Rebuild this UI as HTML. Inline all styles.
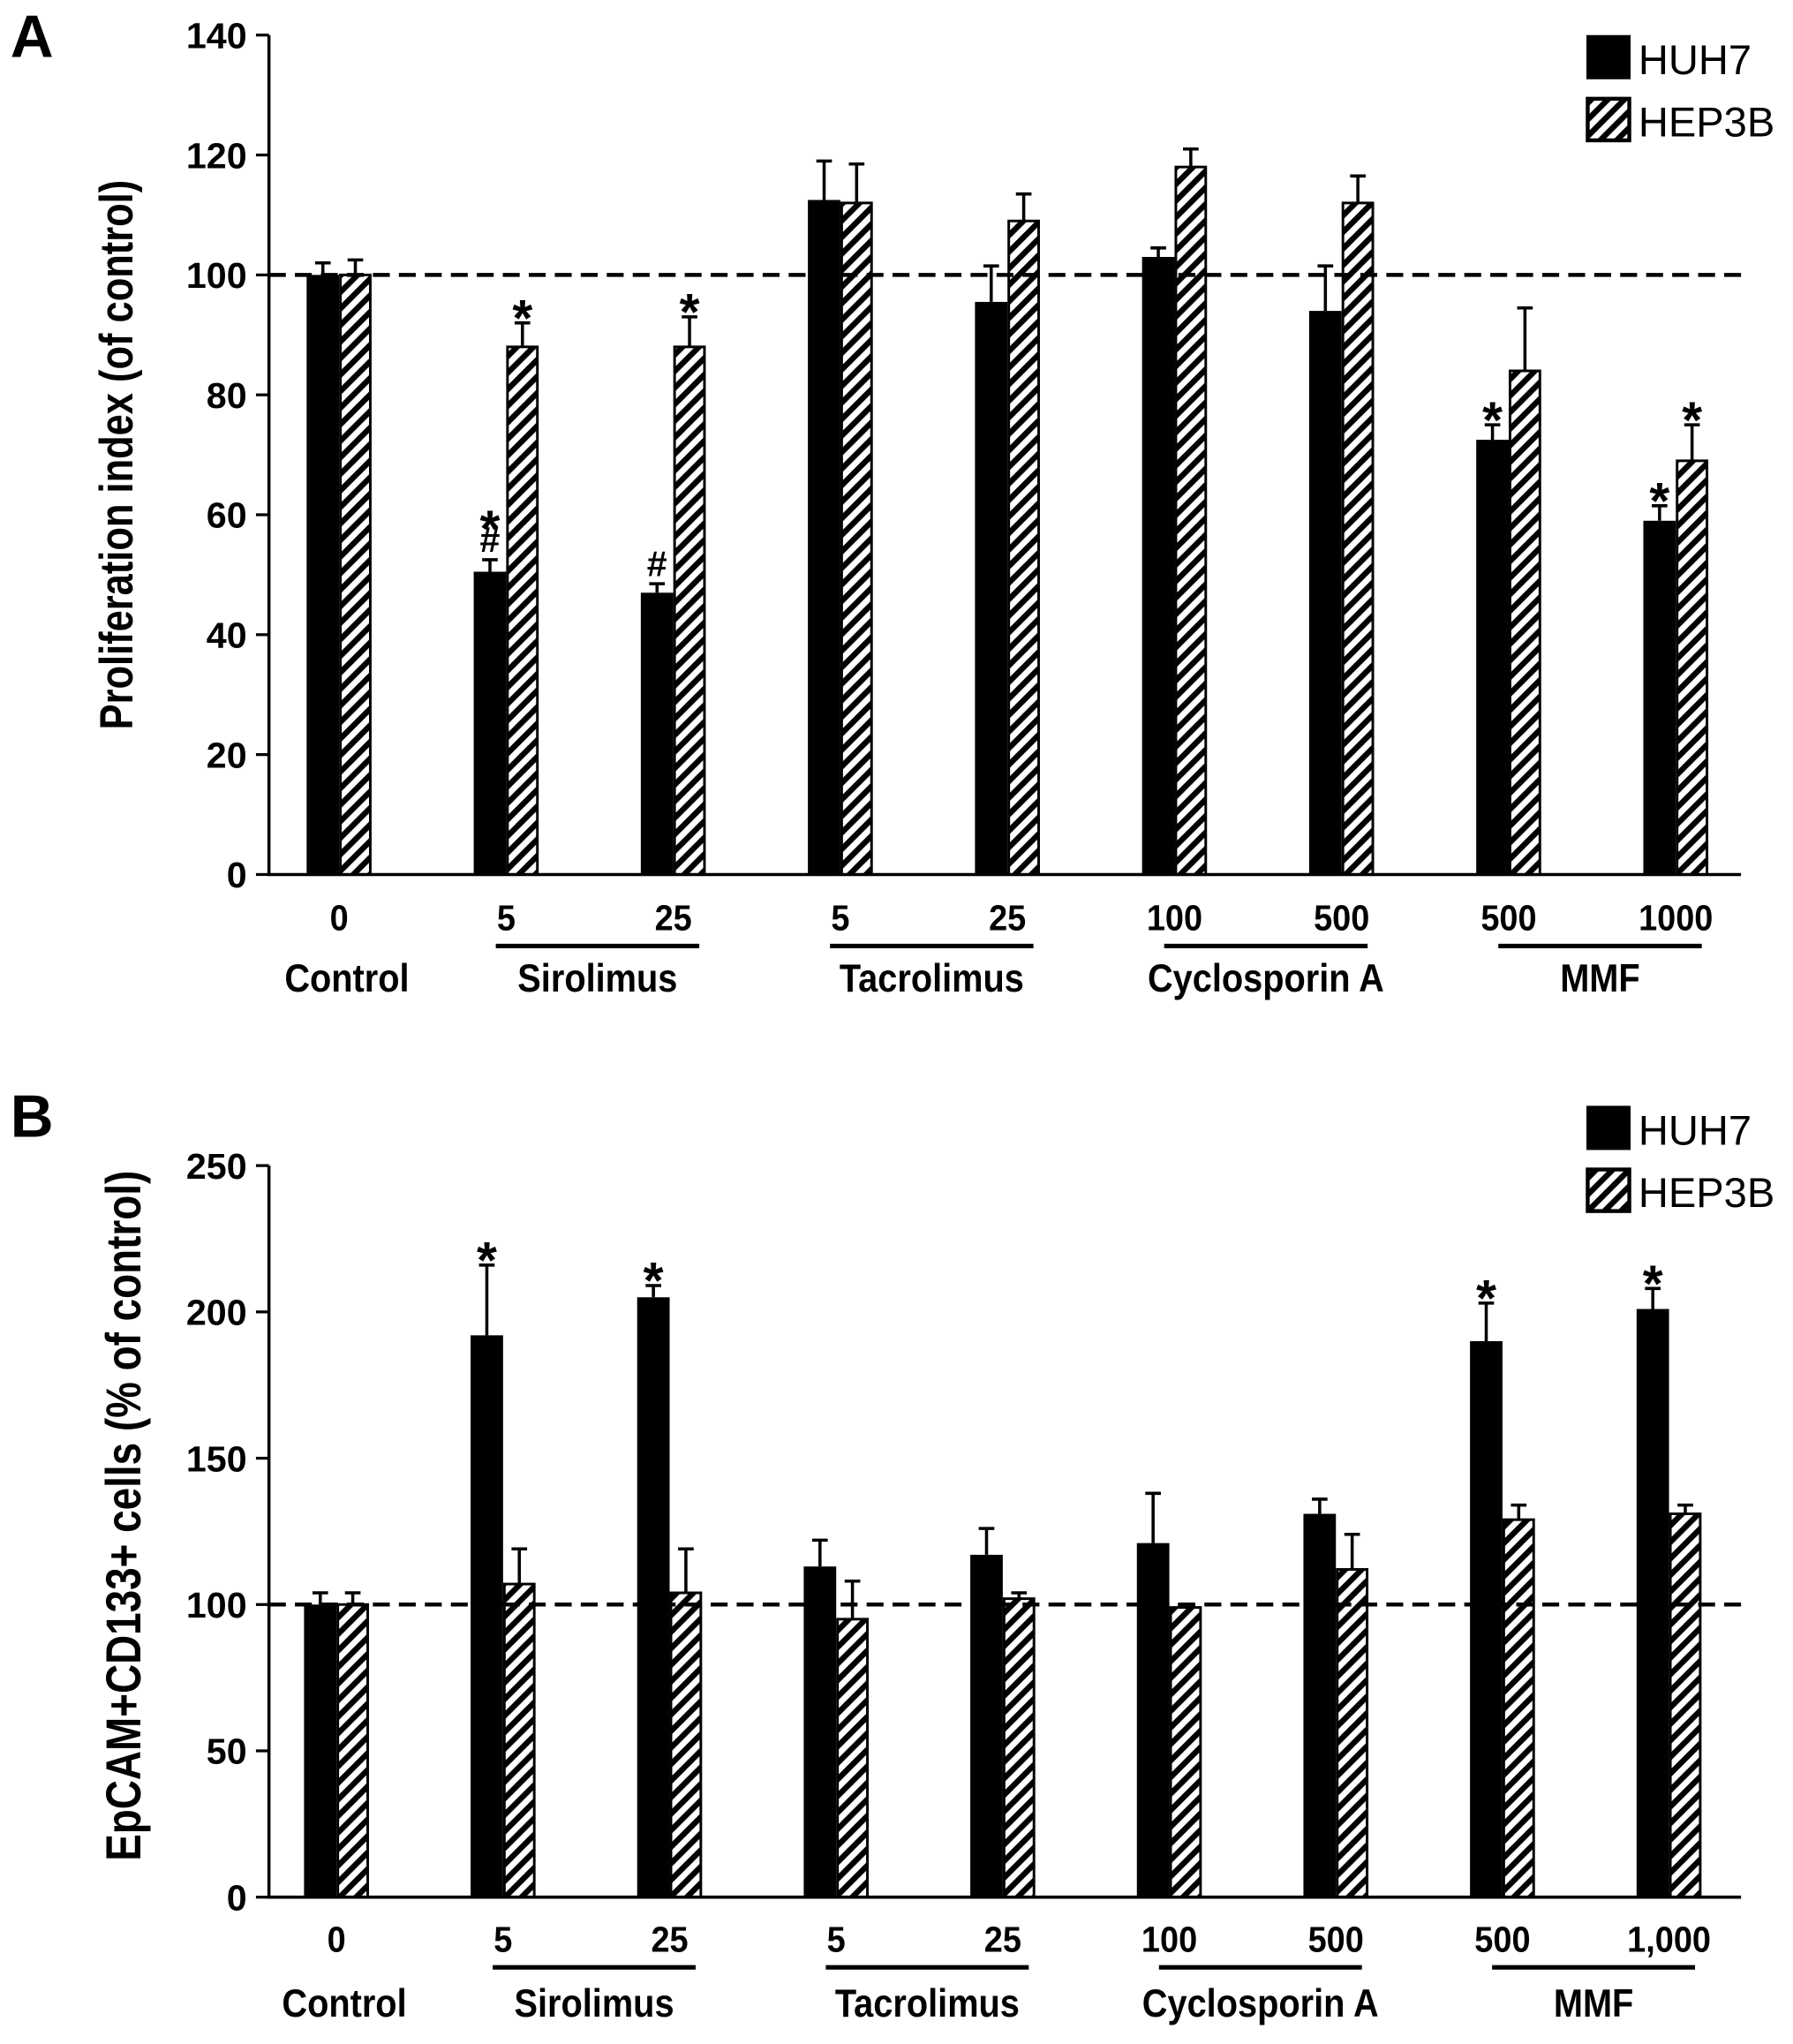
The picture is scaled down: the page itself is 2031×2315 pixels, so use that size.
<!DOCTYPE html>
<html><head><meta charset="utf-8"><style>
html,body{margin:0;padding:0;background:#fff}
svg{display:block}
text{font-family:"Liberation Sans",sans-serif;fill:#000}
</style></head><body>
<svg id="fig" width="2031" height="2315" viewBox="0 0 1380 1573" preserveAspectRatio="none" xmlns="http://www.w3.org/2000/svg">
<defs>
<pattern id="hatch" patternUnits="userSpaceOnUse" width="9" height="9" patternTransform="rotate(45)">
<rect width="9" height="9" fill="#fff"/><rect x="0" y="0" width="4.4" height="9" fill="#000"/>
</pattern>
</defs>
</svg>
<script>
const groupsNum=["0","5","25","5","25","100","500","500","1000"];
const groupsNumB=["0","5","25","5","25","100","500","500","1,000"];
const drugs=["Control","Sirolimus","Tacrolimus","Cyclosporin A","MMF"];
const huhA=[100,50.5,47,112.5,95.5,103,94,72.5,59];
const huhAErr=[2,2,1.5,6.5,6,1.5,7.5,2.5,2.5];
const hepA=[100,88,88,112,109,118,112,84,69];
const hepAErr=[2.5,4,5,6.5,4.5,3,4.5,10.5,6];
const markA_huh=["","*#","#","","","","","*","*"];
const markA_hep=["","*","*","","","","","","*"];
const huhB=[100,192,205,113,117,121,131,190,201];
const huhBErr=[4,24,4,9,9,17,5,13,7];
const hepB=[100,107,104,95,102,99,112,129,131];
const hepBErr=[4,12,15,13,2,1,12,5,3];
const markB_huh=["","*","*","","","","","*","*"];
const ticksA=[0,20,40,60,80,100,120,140];
const ticksB=[0,50,100,150,200,250];

const NS="http://www.w3.org/2000/svg";
const svg=document.getElementById('fig');
function mk(tag,attrs,parent){const e=document.createElementNS(NS,tag);for(const k in attrs)e.setAttribute(k,attrs[k]);(parent||svg).appendChild(e);return e;}
function txt(s,attrs,parent){const e=mk('text',attrs,parent);e.textContent=s;return e;}

function panel(cfg){
  const g=mk('g',{});
  
  
  const y=v=>cfg.y0-(v-0)/cfg.max*(cfg.y0-cfg.yTop);
  const x0=cfg.x0, xs=i=>cfg.c0+i*cfg.step;
  for(let i=0;i<cfg.huh.length;i++){
    const cx=xs(i), w=25;
    const b1=mk('rect',{x:cx-w,y:y(cfg.huh[i]),width:w,height:cfg.y0-y(cfg.huh[i]),fill:'#000'},g);
    
    
    const b2=mk('rect',{x:cx+1,y:y(cfg.hep[i]),width:w-2,height:cfg.y0-y(cfg.hep[i]),fill:'url(#hatch)',stroke:'#000','stroke-width':2},g);
    
    
    [[cx-w/2,cfg.huh[i],cfg.huhE[i]],[cx+w/2,cfg.hep[i],cfg.hepE[i]]].forEach(([ex,v,e])=>{
      const eb=mk('path',{d:`M${ex},${y(v)}V${y(v+e)}M${ex-6},${y(v+e)}H${ex+6}`,stroke:'#000','stroke-width':2.4,fill:'none'},g);
      
      
    });
    const addMark=(m,ex,top)=>{
      let yy=top-6;
      for(let k=m.length-1;k>=0;k--){
        const ch=m[k];
        const t=txt(ch,{x:ex,y:ch=='*'?yy+16:yy,'text-anchor':'middle','font-size':ch=='*'?40:28,'font-weight':'bold'},g);
        
        
        yy-=ch=='#'?20:22;
      }
    };
    if(cfg.mHuh[i])addMark(cfg.mHuh[i],cx-w/2,y(cfg.huh[i]+cfg.huhE[i]));
    if(cfg.mHep&&cfg.mHep[i])addMark(cfg.mHep[i],cx+w/2,y(cfg.hep[i]+cfg.hepE[i]));
  }
  const dl=mk('line',{x1:x0,x2:cfg.xEnd,y1:y(100),y2:y(100),stroke:'#000','stroke-width':3,'stroke-dasharray':'13,7'},g);
  
  
  const ax=mk('path',{d:`M${x0},${cfg.yTop}V${cfg.y0}H${cfg.xEnd}`,stroke:'#000','stroke-width':2.4,fill:'none'},g);
  
  
  cfg.ticks.forEach(t=>{
    mk('line',{x1:x0-10,x2:x0,y1:y(t),y2:y(t),stroke:'#000','stroke-width':2.2},g);
    const tl=txt(String(t),{x:x0-17,y:y(t)+10,'text-anchor':'end','font-size':28,'font-weight':'bold'},g);
    
    
  });
  cfg.nums.forEach((n,i)=>{
    const tl=txt(n,{x:xs(i),y:cfg.numY,'text-anchor':'middle','font-size':28,'font-weight':'bold',transform:`translate(${xs(i)},0) scale(0.92,1) translate(${-xs(i)},0)`},g);
    
    
  });
  const spans=[[0,0],[1,2],[3,4],[5,6],[7,8]];
  drugs.forEach((d,k)=>{
    const [a,b]=spans[k];
    const mid=(xs(a)+xs(b))/2;
    if(a!=b){
      const ln=mk('line',{x1:xs(a)-8,x2:xs(b)+20,y1:cfg.lineY,y2:cfg.lineY,stroke:'#000','stroke-width':3.5},g);
      
      
    }
    const cxl=a==b?xs(a)+6:mid+6;
    const tl=txt(d,{x:cxl,y:cfg.nameY,'text-anchor':'middle','font-size':30,'font-weight':'bold',transform:`translate(${cxl},0) scale(0.9,1) translate(${-cxl},0)`},g);
    
    
  });
  const yt=txt(cfg.title,{transform:`translate(${cfg.titleX},${(cfg.y0+cfg.yTop)/2+cfg.titleDy}) rotate(-90) scale(0.82,1)`,'text-anchor':'middle','font-size':cfg.titleSize,'font-weight':'bold'},g);
  
  
  const pl=txt(cfg.letter,{x:8,y:cfg.letterY,'font-size':46,'font-weight':'bold'},g);
  
  
  const lg=mk('g',{},g);
  
  
  mk('rect',{x:1221,y:cfg.legY,width:34,height:34,fill:'#000'},lg);
  txt('HUH7',{x:1261,y:cfg.legY+30,'font-size':32},lg);
  mk('rect',{x:1222,y:cfg.legY+49,width:32,height:32,fill:'url(#hatch)',stroke:'#000','stroke-width':3},lg);
  txt('HEP3B',{x:1261,y:cfg.legY+78,'font-size':32},lg);
}
panel({name:'panel-a',letter:'A',letterY:44,x0:207,xEnd:1340,y0:673,yTop:27,max:140,c0:261,step:128.6,
  huh:huhA,huhE:huhAErr,hep:hepA,hepE:hepAErr,mHuh:markA_huh,mHep:markA_hep,ticks:ticksA,nums:groupsNum,
  numY:716,lineY:728,nameY:763,title:'Proliferation index (of control)',titleSize:36,titleX:102,titleDy:0,legY:27});
panel({name:'panel-b',letter:'B',letterY:875,x0:207,xEnd:1340,y0:1460,yTop:897,max:250,c0:259,step:128.2,
  huh:huhB,huhE:huhBErr,hep:hepB,hepE:hepBErr,mHuh:markB_huh,mHep:null,ticks:ticksB,nums:groupsNumB,
  numY:1502,lineY:1514,nameY:1552,title:'EpCAM+CD133+ cells (% of control)',titleSize:38,titleX:108,titleDy:-12,legY:851});
</script>
</body></html>
